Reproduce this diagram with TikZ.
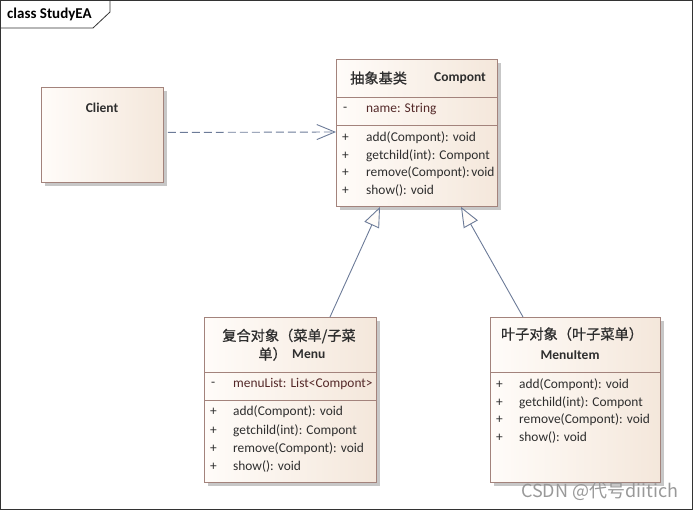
\documentclass[tikz,border=0pt]{standalone}
\usepackage{fontspec}
\setmainfont{Carlito}
\newfontfamily\cjk{Noto Sans CJK SC}
\newfontfamily\cjkhead[FakeBold=0.8]{Noto Sans CJK SC}
\usetikzlibrary{arrows.meta,shadows}
\definecolor{boxline}{HTML}{A3837C}
\definecolor{boxl}{HTML}{FFFCF9}
\definecolor{boxr}{HTML}{F4E7DB}
\definecolor{conn}{HTML}{6C7B98}
\definecolor{txt}{HTML}{2E2E2E}
\definecolor{attr}{HTML}{532828}
\tikzset{
  umlbox/.style={draw=boxline, line width=0.9pt, left color=boxl, right color=boxr,
    anchor=north west, inner sep=0pt,
    drop shadow={shadow xshift=3.5pt, shadow yshift=-3.5pt, fill=black!22, opacity=1}},
  divider/.style={draw=boxline, line width=0.9pt},
  member/.style={anchor=west, inner sep=0pt, font=\fontsize{13.4}{15}\selectfont, text=txt},
  vis/.style={anchor=west, inner sep=0pt, font=\fontsize{13.4}{15}\selectfont, text=txt},
  cname/.style={inner sep=0pt, font=\fontsize{13.5}{15}\selectfont\bfseries, text=txt},
  cjkname/.style={inner sep=0pt, font=\fontsize{14.2}{19}\selectfont\cjkhead, text=txt},
  dep/.style={draw=conn, line width=0.9pt, dash pattern=on 8pt off 4pt, -{Straight Barb[length=18pt,width=15pt]}},
  gen/.style={draw=conn, line width=0.9pt, -{Triangle[length=20pt,width=16pt,fill=boxl]}},
}
\begin{document}
\begin{tikzpicture}[x=1pt,y=-1pt]
\useasboundingbox (0,0) rectangle (693,510);
% frame
\draw[black!80, line width=0.8pt] (0.5,0.5) rectangle (692.5,509.5);
\draw[black!80, line width=0.8pt] (0.5,28) -- (93,28) -- (110,12) -- (110,0.5);
\node[anchor=west, inner sep=0pt, font=\fontsize{15}{16}\selectfont\bfseries, text=black] (frame) at (7,14) {class StudyEA};

% Client
\node[umlbox, minimum width=122pt, minimum height=95pt] (client) at (41,87) {};
\node[cname] (clientname) at (102,108) {Client};

% Compont
\node[umlbox, minimum width=161pt, minimum height=147pt] (comp) at (336,59) {};
\node[cjkname, anchor=west] (compcn) at (350,78) {抽象基类};
\node[cname] (compname) at (460,78) {Compont};
\draw[divider] (336,97) -- (497,97);
\draw[divider] (336,125) -- (497,125);
\node[vis] (cv1) at (343,109) {-};
\node[member, text=attr] (ca1) at (366,109) {name: String};
\node[vis] (cv2) at (342,138) {+};
\node[member] (cm1) at (366,138) {add(Compont): void};
\node[vis] (cv3) at (342,156) {+};
\node[member] (cm2) at (366,156) {getchild(int): Compont};
\node[vis] (cv4) at (342,173) {+};
\node[member] (cm3) at (366,173) {remove(Compont):\kern-1.5pt\ void};
\node[vis] (cv5) at (342,191) {+};
\node[member] (cm4) at (366,191) {show(): void};

% Menu
\node[umlbox, minimum width=172pt, minimum height=165pt] (menu) at (204,317) {};
\node[cjkname] (menucn1) at (289,336) {复合对象（菜单/子菜};
\node[cjkname, anchor=east] (menucn2) at (287,354) {单）};
\node[cname, anchor=west] (menuname) at (292,354) {Menu};
\draw[divider] (204,372) -- (376,372);
\draw[divider] (204,400) -- (376,400);
\node[vis] (mv1) at (211,384) {-};
\node[member, text=attr] (ma1) at (233,384) {menuList: List<Compont>};
\node[vis] (mv2) at (210,412) {+};
\node[member] (mm1) at (233,412) {add(Compont): void};
\node[vis] (mv3) at (210,431) {+};
\node[member] (mm2) at (233,431) {getchild(int): Compont};
\node[vis] (mv4) at (210,449) {+};
\node[member] (mm3) at (233,449) {remove(Compont): void};
\node[vis] (mv5) at (210,467) {+};
\node[member] (mm4) at (233,467) {show(): void};

% MenuItem
\node[umlbox, minimum width=170pt, minimum height=165pt] (item) at (490,317) {};
\node[cjkname] (itemcn) at (572,334) {叶子对象（叶子菜单）};
\node[cname] (itemname) at (570,355) {MenuItem};
\draw[divider] (490,372) -- (660,372);
\node[vis] (iv1) at (496,385) {+};
\node[member] (im1) at (519,385) {add(Compont): void};
\node[vis] (iv2) at (496,403) {+};
\node[member] (im2) at (519,403) {getchild(int): Compont};
\node[vis] (iv3) at (496,420) {+};
\node[member] (im3) at (519,420) {remove(Compont): void};
\node[vis] (iv4) at (496,438) {+};
\node[member] (im4) at (519,438) {show(): void};

% connectors
\draw[dep] ([xshift=4pt,yshift=2.5pt]client.east) -- (comp.west |- 0,132);
\draw[gen] ([xshift=126pt]menu.north west) -- ([xshift=44pt]comp.south west);
\draw[gen] ([xshift=33pt]item.north west) -- ([xshift=125pt]comp.south west);

% watermark
\node[anchor=west, inner sep=0pt, font=\fontsize{18}{20}\selectfont\cjk, text=black!40] (wm) at (521,492) {CSDN @代号diitich};
\end{tikzpicture}
\end{document}
